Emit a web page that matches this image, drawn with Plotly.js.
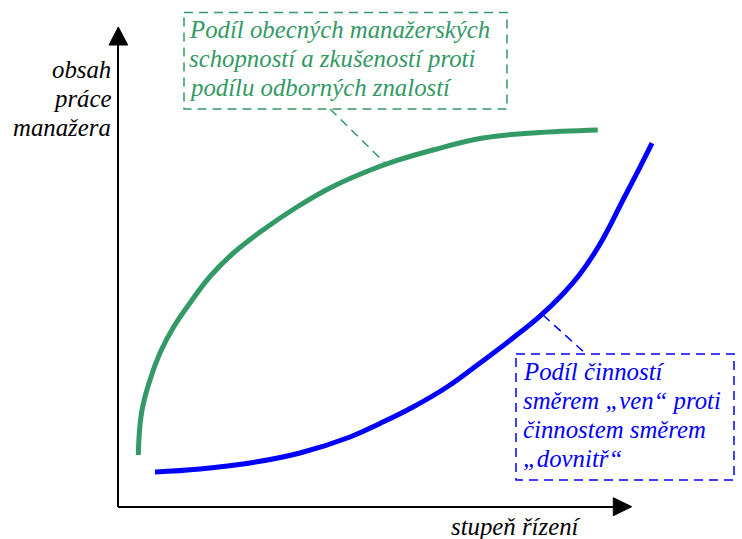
<!DOCTYPE html>
<html>
<head>
<meta charset="utf-8">
<script src="https://cdn.plot.ly/plotly-3.0.1.min.js"></script>
<style>html,body{margin:0;padding:0;background:#fff;}#chart{width:742px;height:539px;}</style>
</head>
<body>
<div id="chart"></div>
<script>
// Data (abstract units: x = stupeň řízení 0..100, y = obsah práce manažera 0..100)
const greenX = [3.95, 4.57, 6.22, 8.16, 10.69, 13.99, 17.88, 22.35, 28.18, 34.79, 41.20, 47.62, 54.23, 61.22, 70.94, 80.66, 93.24];
const greenY = [10.83, 19.58, 26.46, 32.08, 37.29, 42.50, 48.02, 52.85, 57.71, 62.50, 66.46, 69.58, 72.19, 74.38, 76.88, 77.92, 78.54];
const blueX = [7.19, 15.94, 25.66, 35.37, 45.09, 50.92, 57.34, 63.95, 70.36, 76.77, 82.02, 85.91, 89.80, 93.68, 98.15, 101.46, 103.79];
const blueY = [7.29, 7.92, 9.17, 11.25, 14.58, 17.40, 20.83, 25.00, 30.00, 35.21, 39.79, 43.75, 48.54, 54.79, 63.96, 70.83, 75.83];

const yLabelLines = ["obsah", "práce", "manažera"];
const xLabel = "stupeň řízení";
const greenLines = ["Podíl obecných manažerských", "schopností a zkušeností proti", "podílu odborných znalostí"];
const blueLines = ["Podíl činností", "směrem „ven“ proti", "činnostem směrem", "„dovnitř“"];

const GREEN = "#339966";
const BLUE = "#0000ff";
const FONT = "Liberation Serif";

// helpers converting layout pixel positions into axis units
const X = px => (px - 118) / 5.145;
const Y = py => (507 - py) / 4.8;

const traces = [
  {x: greenX, y: greenY, mode: "lines", line: {color: GREEN, width: 5, shape: "spline", smoothing: 1.2}, hoverinfo: "skip"},
  {x: blueX, y: blueY, mode: "lines", line: {color: BLUE, width: 5, shape: "spline", smoothing: 1.2}, hoverinfo: "skip"}
];

const dash = "9px,6px";
const shapes = [
  // axes
  {type: "line", x0: 0, y0: 0, x1: 0, y1: Y(44), line: {color: "#000", width: 2}},
  {type: "line", x0: 0, y0: 0, x1: X(614), y1: 0, line: {color: "#000", width: 2}},
  {type: "path", path: `M ${X(109)},${Y(45)} L ${X(118.3)},${Y(27)} L ${X(127.7)},${Y(45)} Z`, fillcolor: "#000", line: {color: "#000", width: 1}},
  {type: "path", path: `M ${X(613.3)},${Y(497.7)} L ${X(631.7)},${Y(506.7)} L ${X(613.3)},${Y(515.7)} Z`, fillcolor: "#000", line: {color: "#000", width: 1}},
  // green callout
  {type: "rect", x0: X(184), y0: Y(12.5), x1: X(507), y1: Y(109), line: {color: GREEN, width: 1.5, dash: dash}},
  {type: "line", x0: X(330), y0: Y(109), x1: X(385), y1: Y(163), line: {color: GREEN, width: 1.5, dash: dash}},
  // blue callout
  {type: "rect", x0: X(516), y0: Y(354), x1: X(734), y1: Y(480), line: {color: BLUE, width: 1.5, dash: dash}},
  {type: "line", x0: X(543), y0: Y(315), x1: X(586), y1: Y(354), line: {color: BLUE, width: 1.5, dash: dash}}
];

const annotations = [];
const fs = 24.8;
yLabelLines.forEach((t, i) => annotations.push({
  x: X(113), y: Y(69 + i * 29), text: t, showarrow: false, xanchor: "right", yanchor: "middle",
  font: {family: FONT, size: fs, color: "#000", style: "italic"}
}));
annotations.push({
  x: X(583), y: Y(526), text: xLabel, showarrow: false, xanchor: "right", yanchor: "middle",
  font: {family: FONT, size: fs, color: "#000", style: "italic"}
});
greenLines.forEach((t, i) => annotations.push({
  x: X(187), y: Y(29 + i * 29.3), text: t, showarrow: false, xanchor: "left", yanchor: "middle",
  font: {family: FONT, size: fs, color: GREEN, style: "italic"}
}));
blueLines.forEach((t, i) => annotations.push({
  x: X(520.5), y: Y(371 + i * 29.3), text: t, showarrow: false, xanchor: "left", yanchor: "middle",
  font: {family: FONT, size: fs, color: BLUE, style: "italic"}
}));

const layout = {
  width: 742, height: 539,
  margin: {l: 5, r: 5, t: 5, b: 5, pad: 0},
  paper_bgcolor: "#fff", plot_bgcolor: "#fff",
  showlegend: false,
  font: {family: FONT},
  xaxis: {range: [X(5), X(737)], visible: false, fixedrange: true},
  yaxis: {range: [Y(534), Y(5)], visible: false, fixedrange: true},
  shapes: shapes,
  annotations: annotations
};

Plotly.newPlot("chart", traces, layout, {displayModeBar: false, staticPlot: true});
</script>
</body>
</html>
